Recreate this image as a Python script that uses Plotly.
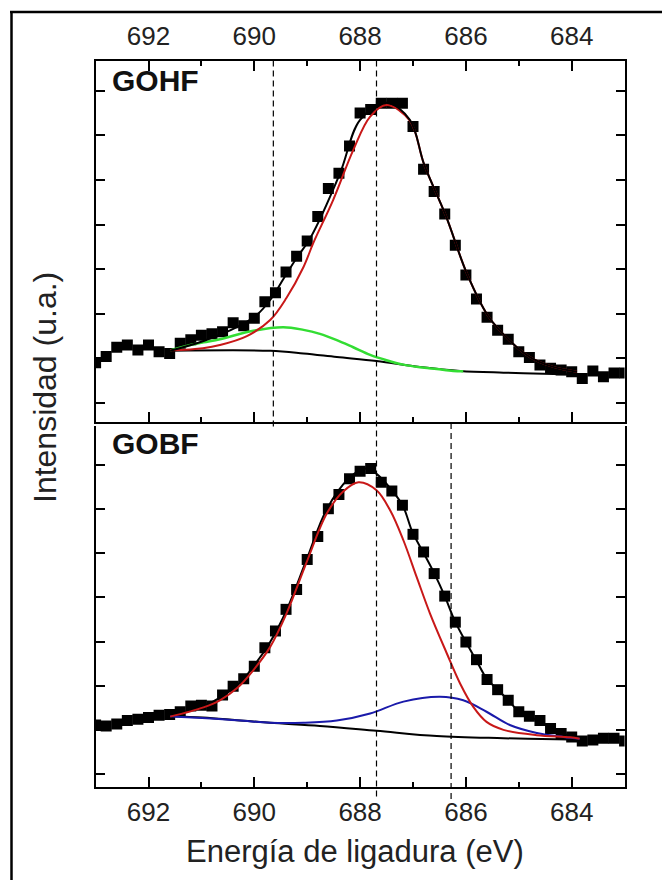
import plotly.graph_objects as go

# ---------------- data ----------------
energy = [round(693.0 - 0.2 * i, 1) for i in range(51)]  # binding energy grid (eV), 693 -> 683

gohf_data = [0.90, 1.04, 1.25, 1.30, 1.19, 1.30, 1.15, 1.11, 1.34, 1.42,
             1.52, 1.55, 1.60, 1.80, 1.73, 1.90, 2.27, 2.47, 2.94, 3.29,
             3.63, 4.18, 4.81, 5.15, 5.76, 6.50, 6.58, 6.72, 6.72, 6.72,
             6.20, 5.24, 4.74, 4.24, 3.54, 2.87, 2.33, 1.92, 1.63, 1.43,
             1.15, 1.02, 0.85, 0.78, 0.74, 0.70, 0.55, 0.72, 0.59, 0.67, 0.67]

gobf_data = [1.11, 1.09, 1.13, 1.21, 1.24, 1.28, 1.33, 1.35, 1.41, 1.54,
             1.56, 1.54, 1.79, 1.99, 2.16, 2.44, 2.86, 3.24, 3.73, 4.18,
             4.86, 5.38, 6.01, 6.33, 6.69, 6.86, 6.92, 6.61, 6.41, 6.09,
             5.43, 5.03, 4.54, 4.03, 3.44, 2.99, 2.59, 2.14, 1.91, 1.67,
             1.41, 1.31, 1.21, 1.03, 0.92, 0.84, 0.75, 0.77, 0.81, 0.81, 0.75]

# GOHF fit curves
gohf_bg_e = [691.59, 689.70, 689.07, 688.44, 687.69, 686.87, 686.11, 685.29, 684.35, 683.90]
gohf_bg_v = [1.17, 1.17, 1.11, 1.03, 0.94, 0.81, 0.72, 0.68, 0.65, 0.64]

gohf_green_e = [691.59, 691.28, 690.96, 690.65, 690.02, 689.45, 689.07, 688.76, 688.44,
                688.13, 687.81, 687.50, 687.18, 686.87, 686.55, 686.24, 686.05]
gohf_green_v = [1.18, 1.28, 1.36, 1.43, 1.62, 1.70, 1.64, 1.55, 1.41,
                1.25, 1.08, 0.96, 0.86, 0.80, 0.76, 0.72, 0.71]

gohf_red_e = [691.59, 690.97, 690.65, 690.14, 689.70, 689.39, 689.07, 688.88, 688.51, 688.13,
              687.81, 687.50, 687.06, 686.79, 686.38, 685.98, 685.58, 685.19, 684.79, 684.38,
              684.09, 683.90]
gohf_red_v = [1.18, 1.23, 1.30, 1.50, 1.86, 2.36, 3.05, 3.60, 4.55, 5.67,
              6.42, 6.68, 6.33, 5.35, 4.20, 2.90, 1.95, 1.42, 1.03, 0.82,
              0.74, 0.70]

gohf_env_e = [691.59, 690.96, 690.33, 689.95, 689.70, 689.45, 689.20, 688.95, 688.38, 688.00,
              687.50, 687.06, 686.79, 686.38, 685.98, 685.58, 685.19, 684.79, 684.38, 684.09, 683.90]
gohf_env_v = [1.17, 1.39, 1.70, 1.98, 2.31, 2.78, 3.25, 3.68, 5.15, 6.35,
              6.73, 6.35, 5.35, 4.20, 2.90, 1.95, 1.42, 1.03, 0.82, 0.74, 0.70]

# GOBF fit curves
gobf_bg_e = [691.59, 690.97, 690.33, 689.70, 688.76, 687.69, 686.55, 685.29, 684.03, 683.85]
gobf_bg_v = [1.31, 1.28, 1.22, 1.16, 1.09, 0.98, 0.86, 0.81, 0.78, 0.78]

gobf_blue_e = [691.59, 690.33, 689.70, 689.07, 688.44, 687.81, 687.18, 686.49, 686.05,
               685.61, 685.17, 684.66, 684.16, 683.85]
gobf_blue_v = [1.31, 1.22, 1.16, 1.16, 1.21, 1.37, 1.64, 1.75, 1.67,
               1.41, 1.11, 0.93, 0.84, 0.80]

gobf_red_e = [691.59, 690.96, 690.65, 690.33, 690.02, 689.70, 689.39, 689.01, 688.63, 688.32,
              688.03, 687.69, 687.43, 687.18, 686.93, 686.68, 686.36, 686.11, 685.86, 685.61,
              685.29, 684.66, 684.03, 683.85]
gobf_red_v = [1.30, 1.51, 1.67, 1.94, 2.35, 2.88, 3.64, 4.80, 5.90, 6.40,
              6.61, 6.43, 5.97, 5.29, 4.46, 3.64, 2.73, 2.05, 1.52, 1.18,
              1.00, 0.88, 0.83, 0.80]

gobf_env_e = [691.59, 690.96, 690.33, 690.02, 689.70, 689.39, 689.01, 688.63, 688.21, 687.91,
              687.69, 687.40, 687.19, 687.01, 686.81, 686.60, 686.40, 686.21, 686.00, 685.81,
              685.60, 685.39, 685.20, 685.01, 684.81, 684.60, 684.39, 684.18, 683.99, 683.85]
gobf_env_v = [1.33, 1.54, 2.00, 2.43, 2.99, 3.71, 4.86, 6.00, 6.70, 6.92,
              6.80, 6.43, 6.07, 5.48, 5.03, 4.55, 4.03, 3.47, 2.99, 2.59,
              2.15, 1.90, 1.67, 1.43, 1.31, 1.19, 1.04, 0.93, 0.84, 0.79]

# reference (dashed) energies
dash_e = [689.64, 687.69, 686.28]

xticks_major = [684, 686, 688, 690, 692]
xticks_minor = [685, 687, 689, 691]
yticks = [0, 1, 2, 3, 4, 5, 6, 7]

labels = ["GOHF", "GOBF"]
xtitle = "Energía de ligadura (eV)"
ytitle = "Intensidad (u.a.)"

# ---------------- figure ----------------
W, H = 662, 880
def px(x):
    return x / W
def py(y):
    return 1 - y / H

RED = "#c81818"
GREEN = "#33dd33"
BLUE = "#1a1aaa"
FONT = "Liberation Sans, Arial, sans-serif"

fig = go.Figure()

def sq(x, y, xa, ya):
    return go.Scatter(x=x, y=y, mode="markers", xaxis=xa, yaxis=ya,
                      marker=dict(symbol="square", size=11, color="black", line=dict(width=0)),
                      showlegend=False, hoverinfo="skip")

def ln(x, y, xa, ya, color, width=2):
    return go.Scatter(x=x, y=y, mode="lines", xaxis=xa, yaxis=ya,
                      line=dict(color=color, width=width, shape="spline", smoothing=1.0),
                      showlegend=False, hoverinfo="skip")

# top panel (GOHF)
fig.add_trace(sq(energy, gohf_data, "x", "y"))
fig.add_trace(ln(gohf_bg_e, gohf_bg_v, "x", "y", "black"))
fig.add_trace(ln(gohf_green_e, gohf_green_v, "x", "y", GREEN, 2.5))
fig.add_trace(ln(gohf_red_e, gohf_red_v, "x", "y", RED))
fig.add_trace(ln(gohf_env_e, gohf_env_v, "x", "y", "black"))

# bottom panel (GOBF)
fig.add_trace(sq(energy, gobf_data, "x2", "y2"))
fig.add_trace(ln(gobf_bg_e, gobf_bg_v, "x2", "y2", "black"))
fig.add_trace(ln(gobf_env_e, gobf_env_v, "x2", "y2", "black"))
fig.add_trace(ln(gobf_blue_e, gobf_blue_v, "x2", "y2", BLUE))
fig.add_trace(ln(gobf_red_e, gobf_red_v, "x2", "y2", RED))

xdom = [px(95.6), px(624.6)]
top_dom = [py(421.5), py(60.5)]
bot_dom = [py(786.7), py(426)]

tickfont = dict(family=FONT, size=26, color="#222")

common_x = dict(range=[693, 683], tickvals=xticks_major, ticks="inside", ticklen=10,
                tickwidth=2, tickcolor="black", showline=True, linewidth=2, linecolor="black",
                showgrid=False, zeroline=False, tickfont=tickfont,
                minor=dict(tickvals=xticks_minor, ticks="inside", ticklen=5, tickwidth=2,
                           tickcolor="black", showgrid=False))
common_y = dict(tickvals=yticks, ticks="inside", ticklen=9, tickwidth=2, tickcolor="black",
                showticklabels=False, showline=True, linewidth=2, linecolor="black",
                mirror="ticks", showgrid=False, zeroline=False)

fig.update_layout(
    width=W, height=H, margin=dict(l=0, r=0, t=0, b=0),
    paper_bgcolor="white", plot_bgcolor="white", showlegend=False,
    xaxis=dict(domain=xdom, anchor="y", side="top", mirror="ticks", ticklabelstandoff=3, **common_x),
    yaxis=dict(domain=top_dom, anchor="x", range=[-0.415, 7.68], **common_y),
    xaxis2=dict(domain=xdom, anchor="y2", side="bottom", mirror=False, ticklabelstandoff=1, **common_x),
    yaxis2=dict(domain=bot_dom, anchor="x2", range=[-0.288, 7.884], **common_y),
)

shapes = []
# dashed reference lines
dash_spans = [(60.5, 428), (60.5, 800), (423, 800)]
for e, (y0, y1) in zip(dash_e, dash_spans):
    shapes.append(dict(type="line", xref="x", yref="paper", x0=e, x1=e, y0=py(y0), y1=py(y1),
                       line=dict(color="black", width=1.2, dash="6px,4px"), layer="above"))
# outer frame (left and top edges visible)
shapes.append(dict(type="line", xref="paper", yref="paper", x0=px(11.5), x1=px(11.5),
                   y0=py(11), y1=py(885), line=dict(color="black", width=2.5)))
shapes.append(dict(type="line", xref="paper", yref="paper", x0=px(10), x1=px(670),
                   y0=py(12), y1=py(12), line=dict(color="black", width=2.5)))
fig.update_layout(shapes=shapes)

ann = [
    dict(text="<b>%s</b>" % labels[0], x=px(110), y=py(80), xref="paper", yref="paper",
         xanchor="left", yanchor="middle", showarrow=False,
         font=dict(family=FONT, size=30, color="#111")),
    dict(text="<b>%s</b>" % labels[1], x=px(110), y=py(443), xref="paper", yref="paper",
         xanchor="left", yanchor="middle", showarrow=False,
         font=dict(family=FONT, size=30, color="#111")),
    dict(text=xtitle, x=px(355), y=py(851), xref="paper", yref="paper",
         xanchor="center", yanchor="middle", showarrow=False,
         font=dict(family=FONT, size=31, color="#222")),
    dict(text=ytitle, x=px(45), y=py(388), xref="paper", yref="paper", textangle=-90,
         xanchor="center", yanchor="middle", showarrow=False,
         font=dict(family=FONT, size=32, color="#222")),
]
fig.update_layout(annotations=ann)

fig.write_html("out.html")
